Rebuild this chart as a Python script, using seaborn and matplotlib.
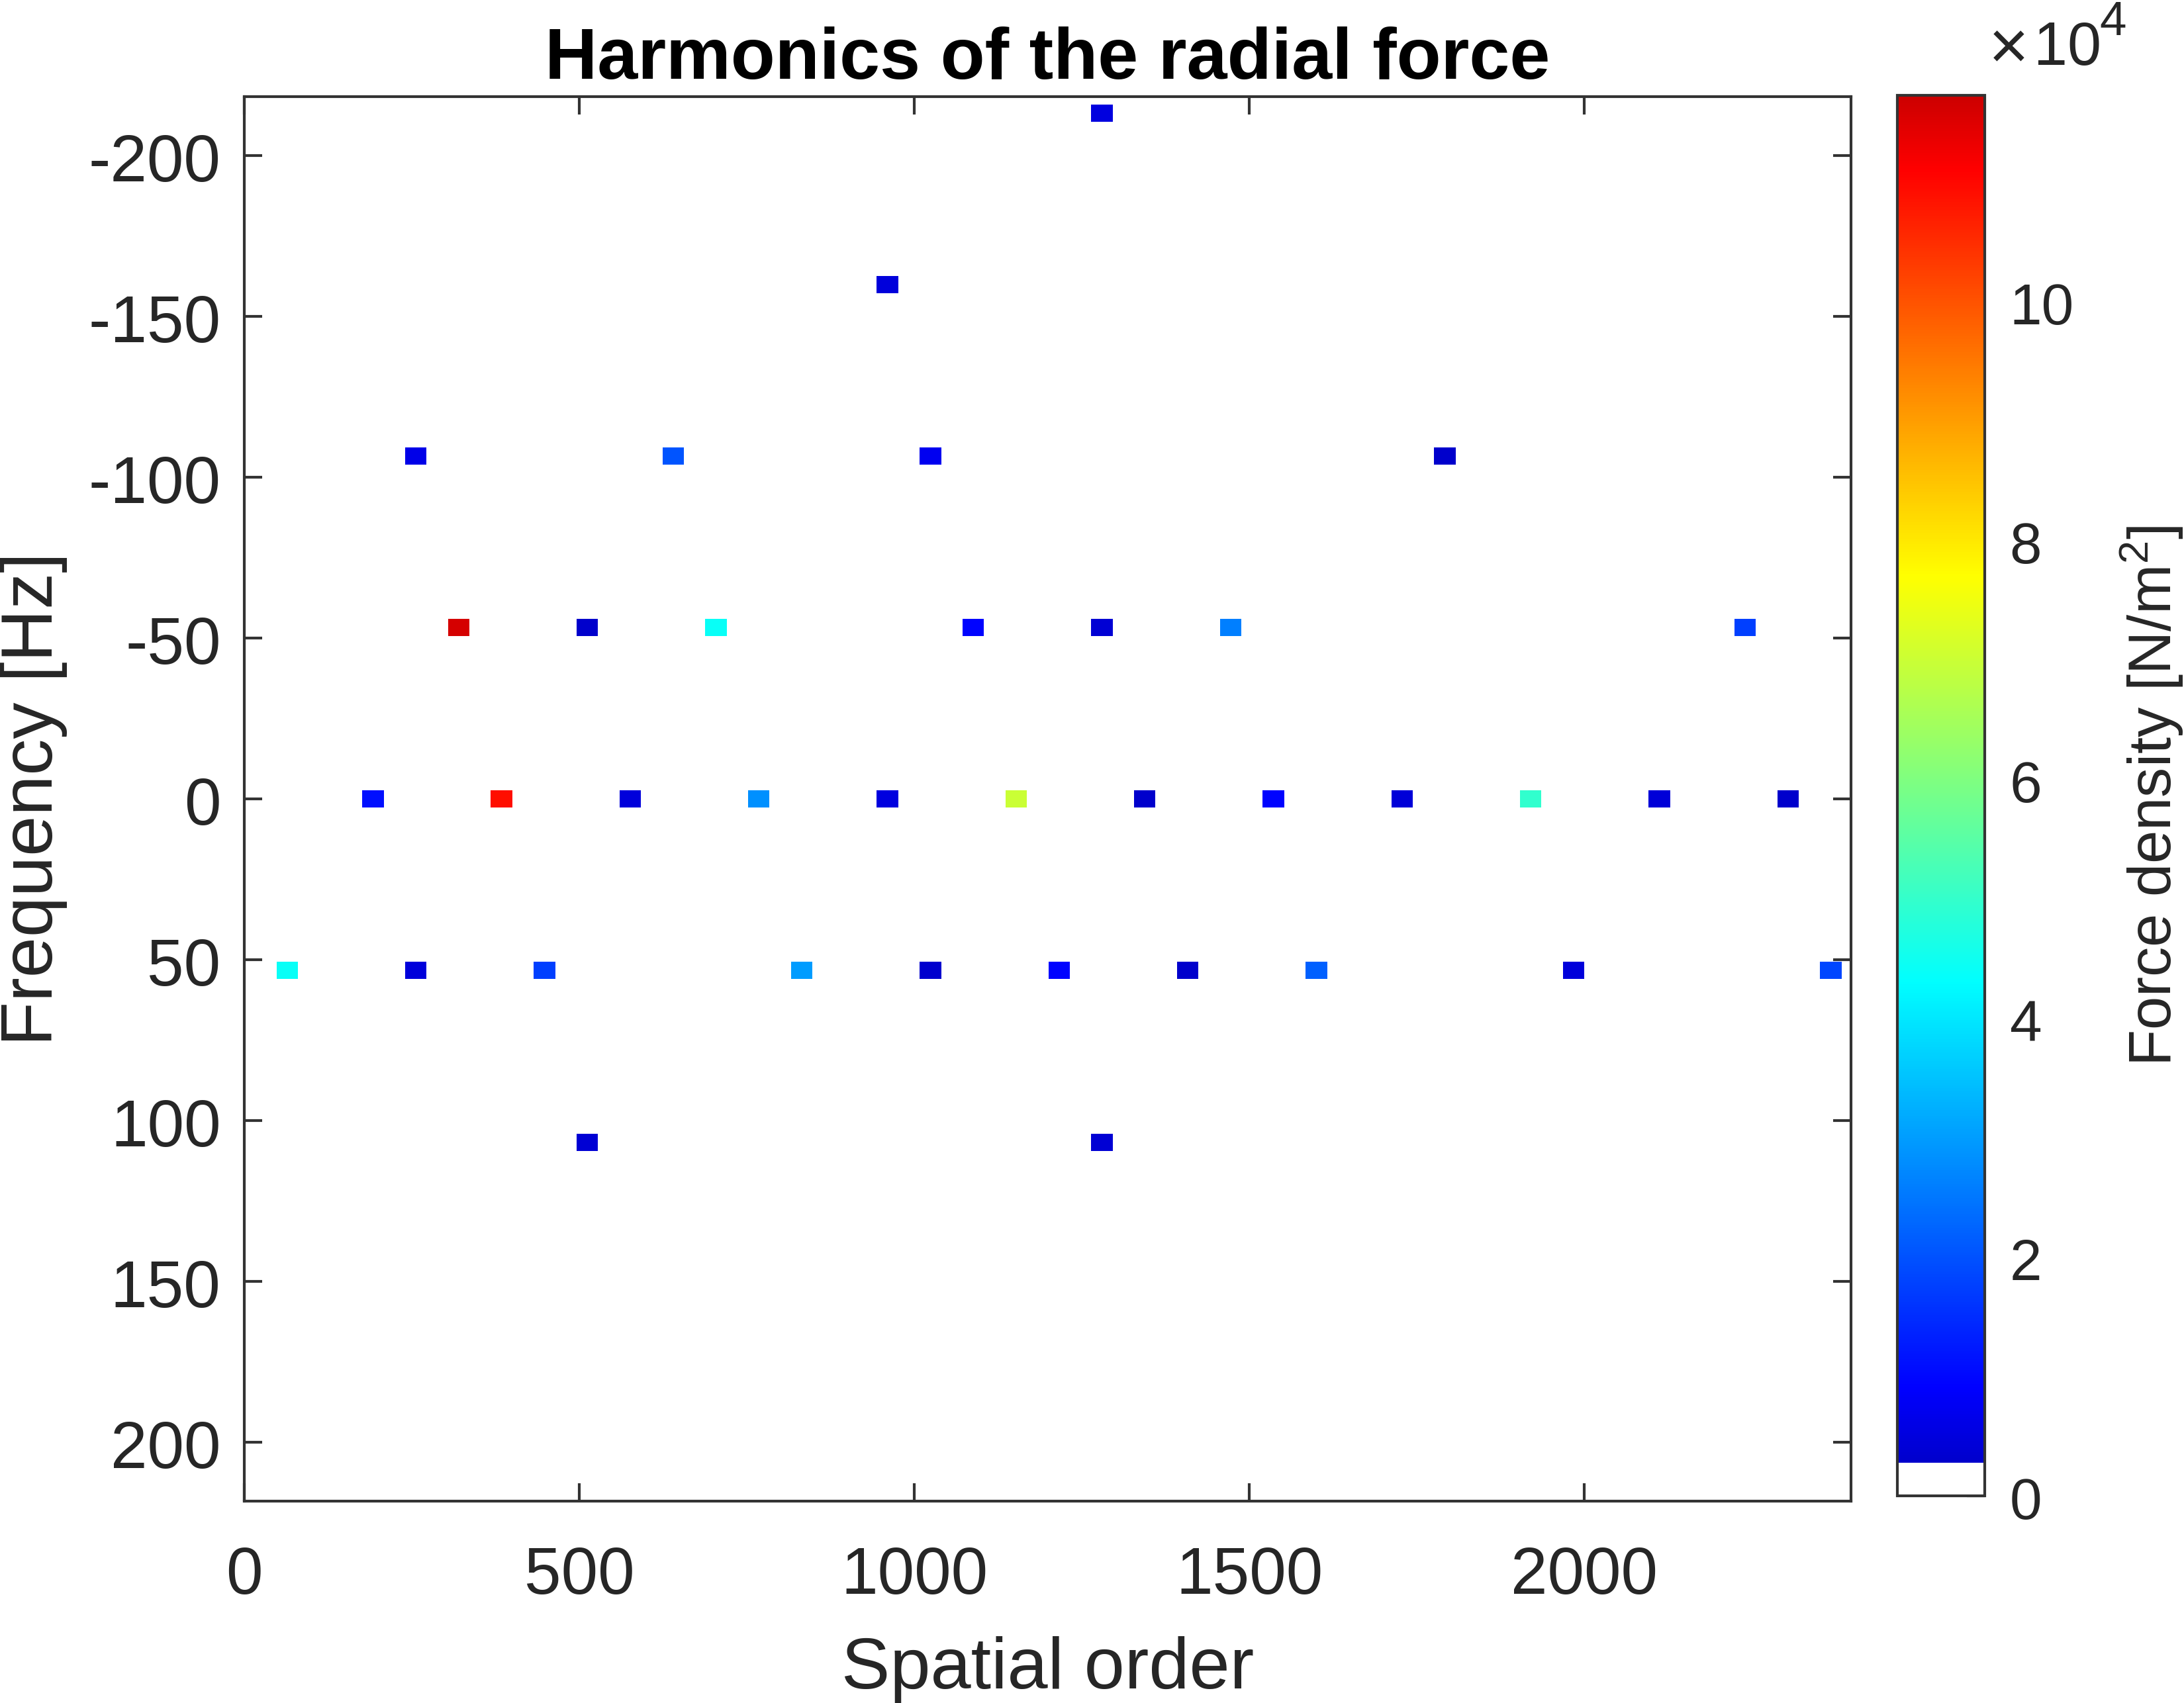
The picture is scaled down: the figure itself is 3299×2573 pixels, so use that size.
import numpy as np
import pandas as pd
import matplotlib.pyplot as plt
import seaborn as sns
from matplotlib.colors import LinearSegmentedColormap
from matplotlib.transforms import ScaledTranslation

# harmonics: frequency row -> spatial order, force density (x 1e4 N/m2)
freq_rows = [-40, -30, -20, -10, 0, 10, 20]  # in units of one grid step (160/30 Hz)
orders_m40 = [1280]
values_m40 = [0.52]
orders_m30 = [960]
values_m30 = [0.47]
orders_m20 = [256, 640, 1024, 1792]
values_m20 = [0.62, 2.03, 0.71, 0.28]
orders_m10 = [320, 512, 704, 1088, 1280, 1472, 2240]
values_m10 = [11.6, 0.28, 4.4, 0.95, 0.37, 2.6, 1.75]
orders_0 = [192, 384, 576, 768, 960, 1152, 1344, 1536, 1728, 1920, 2112, 2304]
values_0 = [1.1, 10.9, 0.47, 2.82, 0.52, 7.0, 0.28, 0.95, 0.42, 4.95, 0.42, 0.28]
orders_p10 = [64, 256, 448, 832, 1024, 1216, 1408, 1600, 1984, 2368]
values_p10 = [4.4, 0.47, 1.75, 2.98, 0.32, 0.95, 0.28, 2.18, 0.47, 1.85]
orders_p20 = [512, 1280]
values_p20 = [0.37, 0.37]

x_ticks = [0, 500, 1000, 1500, 2000]
y_ticks = [-200, -150, -100, -50, 0, 50, 100, 150, 200]
cbar_ticks = [0, 2, 4, 6, 8, 10]

all_orders = [orders_m40, orders_m30, orders_m20, orders_m10, orders_0, orders_p10, orders_p20]
all_values = [values_m40, values_m30, values_m20, values_m10, values_0, values_p10, values_p20]

# grid of the map
dx = 32
dy = 160 / 30
n_cols = 76
n_half = 41
grid = pd.DataFrame(np.nan, index=range(-n_half, n_half + 1), columns=[i * dx for i in range(n_cols)])
for row, ords, vals in zip(freq_rows, all_orders, all_values):
    for o, v in zip(ords, vals):
        grid.loc[row, o] = v

sns.set_theme(style="white")
plt.rcParams["font.family"] = ["Liberation Sans", "DejaVu Sans"]
plt.rcParams["mathtext.fontset"] = "custom"
plt.rcParams["mathtext.rm"] = "Liberation Sans"
plt.rcParams["mathtext.default"] = "regular"

ink = "#262626"
edge = "#333333"
vmax = 11.72
w = 0.023


def pos(v):
    return v / vmax


# jet without its darkest ends, the lowest level is white
stops = [
    (0.0, "#ffffff"), (w, "#ffffff"), (w, "#0000cc"),
    (pos(0.9), "#0000ff"), (pos(4.3), "#00ffff"), (pos(7.7), "#ffff00"),
    (pos(11.1), "#ff0000"), (1.0, "#cc0000"),
]
cmap = LinearSegmentedColormap.from_list("jet_white", stops, N=512)

W, H = 3299, 2573
fig = plt.figure(figsize=(W / 300, H / 300), dpi=300, facecolor="white")
L, R, T, B = 369, 2796, 146, 2268
ax = fig.add_axes([L / W, 1 - B / H, (R - L) / W, (B - T) / H])
cax = fig.add_axes([2866 / W, 1 - 2260 / H, (2998 - 2866) / W, (2260 - 144) / H])

sns.heatmap(grid, ax=ax, cbar_ax=cax, cmap=cmap, vmin=0, vmax=vmax,
            xticklabels=False, yticklabels=False)


# heatmap cells sit at index + 0.5
def xpos(x):
    return x / dx + 0.5


def ypos(y):
    return y / dy + n_half + 0.5


ax.set_xlim(xpos(0), xpos(2398))
ax.set_ylim(ypos(218.3), ypos(-218.4))
ax.set_xticks([xpos(t) for t in x_ticks])
ax.set_xticklabels([str(t) for t in x_ticks], rotation=0)
ax.set_yticks([ypos(t) for t in y_ticks])
ax.set_yticklabels([str(t) for t in y_ticks], rotation=0)
ax.tick_params(axis="both", which="major", direction="in", length=6.5, width=1.0, color=edge,
               labelsize=24, labelcolor=ink, top=True, right=True, bottom=True, left=True, pad=8.5)
ax.tick_params(axis="x", pad=16)
for s in ax.spines.values():
    s.set_visible(True)
    s.set_color(edge)
    s.set_linewidth(1.0)

# small nudge down of the labels, as in the reference
nudge = ScaledTranslation(0, -2 / 300, fig.dpi_scale_trans)
for lab in ax.get_yticklabels():
    lab.set_transform(lab.get_transform() + nudge)

ax.set_xlabel("Spatial order", fontsize=26.4, color=ink, labelpad=10.5)
ax.set_ylabel("Frequency [Hz]", fontsize=26.4, color=ink, labelpad=7.5)
ax.set_title("Harmonics of the radial force", fontsize=26.35, fontweight="bold", color="black", pad=6.5)

cbar = ax.collections[0].colorbar
cbar.set_ticks(cbar_ticks)
cbar.set_ticklabels([str(t) for t in cbar_ticks])
cbar.ax.tick_params(direction="in", length=6.5, width=1.0, color=edge, labelsize=21, labelcolor=ink, pad=9)
cbar.outline.set_visible(True)
cbar.outline.set_edgecolor(edge)
cbar.outline.set_linewidth(1.0)
cbar.set_label("Force density [N/m$^2$]", fontsize=21.7, color=ink, labelpad=16)

nudge_c = ScaledTranslation(0, -4 / 300, fig.dpi_scale_trans)
for lab in cbar.ax.get_yticklabels():
    lab.set_transform(lab.get_transform() + nudge_c)

# exponent above the colorbar
fig.text(3031 / W, 1 - 76 / H, r"$\times$", fontsize=25, color=ink, ha="center", va="center", math_fontfamily="cm")
fig.text(3072 / W, 1 - 98 / H, "10", fontsize=22, color=ink, ha="left", va="baseline")
fig.text(3171 / W, 1 - 53 / H, "4", fontsize=17.5, color=ink, ha="left", va="baseline")

fig.savefig("out.png", dpi=300)
